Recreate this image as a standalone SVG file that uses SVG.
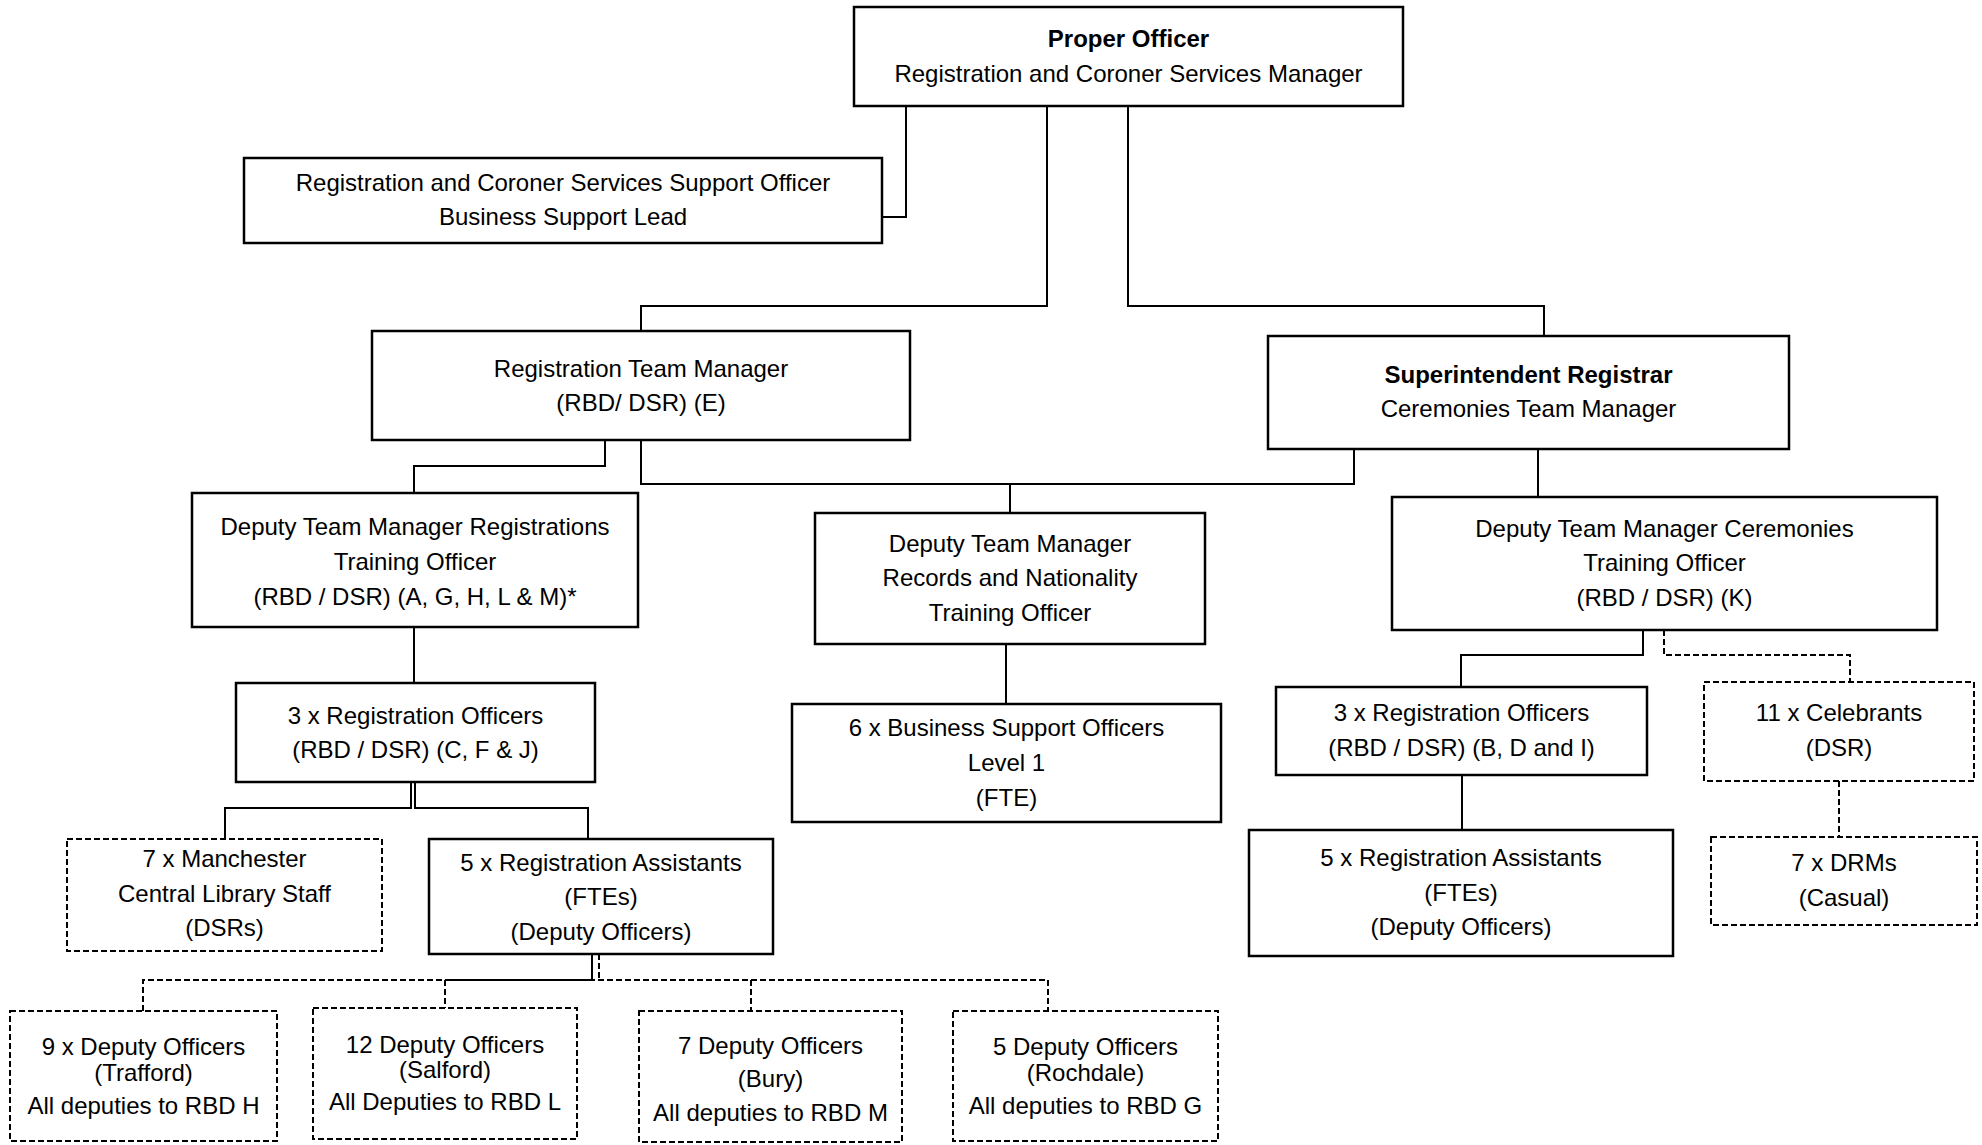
<svg xmlns="http://www.w3.org/2000/svg" width="1982" height="1145" viewBox="0 0 1982 1145">
<style>
.box{fill:#fff;stroke:#000;stroke-width:2.5}
.dbox{fill:#fff;stroke:#000;stroke-width:2;stroke-dasharray:6 3}
.ln{fill:none;stroke:#000;stroke-width:2}
.dl{fill:none;stroke:#000;stroke-width:2;stroke-dasharray:6 3}
text{font-family:"Liberation Sans",Arial,sans-serif;font-size:24px;fill:#000;text-anchor:middle}
.b{font-weight:bold}
</style>
<rect width="1982" height="1145" fill="#fff"/>
<g id="connectors">
<path class="ln" d="M906,106V217H882"/>
<path class="ln" d="M1047,106V306H641V331"/>
<path class="ln" d="M1128,106V306H1544V336"/>
<path class="ln" d="M605,440V466H414V493"/>
<path class="ln" d="M641,440V484H1354V449"/>
<path class="ln" d="M1010,484V513"/>
<path class="ln" d="M1538,449V497"/>
<path class="ln" d="M414,627V683"/>
<path class="ln" d="M1006,641V704"/>
<path class="ln" d="M411,782V808H225V839"/>
<path class="ln" d="M415,782V808H588V839"/>
<path class="ln" d="M1643,630V655H1461V687"/>
<path class="dl" d="M1664,630V655H1850V682"/>
<path class="ln" d="M1462,775V830"/>
<path class="dl" d="M1839,781V837"/>
<path class="ln" d="M592,954V980"/>
<path class="dl" d="M592,980H445" style="stroke-dasharray:8 1"/>
<path class="dl" d="M599,954V980"/>
<path class="dl" d="M143,1011V980H1048V1011"/>
<path class="dl" d="M445,980V1008"/>
<path class="dl" d="M751,980V1011"/>
</g>
<g id="proper-officer">
<rect class="box" x="854" y="7" width="549" height="99"/>
<text class="b" x="1128.5" y="47">Proper Officer</text>
<text x="1128.5" y="82">Registration and Coroner Services Manager</text>
</g>
<g id="support-officer">
<rect class="box" x="244" y="158" width="638" height="85"/>
<text x="563" y="191">Registration and Coroner Services Support Officer</text>
<text x="563" y="225">Business Support Lead</text>
</g>
<g id="registration-team-manager">
<rect class="box" x="372" y="331" width="538" height="109"/>
<text x="641" y="377">Registration Team Manager</text>
<text x="641" y="411">(RBD/ DSR) (E)</text>
</g>
<g id="superintendent-registrar">
<rect class="box" x="1268" y="336" width="521" height="113"/>
<text class="b" x="1528.5" y="383">Superintendent Registrar</text>
<text x="1528.5" y="417">Ceremonies Team Manager</text>
</g>
<g id="dtm-registrations">
<rect class="box" x="192" y="493" width="446" height="134"/>
<text x="415" y="535">Deputy Team Manager Registrations</text>
<text x="415" y="570">Training Officer</text>
<text x="415" y="605">(RBD / DSR) (A, G, H, L &amp; M)*</text>
</g>
<g id="dtm-records">
<rect class="box" x="815" y="513" width="390" height="131"/>
<text x="1010" y="552">Deputy Team Manager</text>
<text x="1010" y="586">Records and Nationality</text>
<text x="1010" y="621">Training Officer</text>
</g>
<g id="dtm-ceremonies">
<rect class="box" x="1392" y="497" width="545" height="133"/>
<text x="1664.5" y="537">Deputy Team Manager Ceremonies</text>
<text x="1664.5" y="571">Training Officer</text>
<text x="1664.5" y="606">(RBD / DSR) (K)</text>
</g>
<g id="reg-officers-left">
<rect class="box" x="236" y="683" width="359" height="99"/>
<text x="415.5" y="724">3 x Registration Officers</text>
<text x="415.5" y="758">(RBD / DSR) (C, F &amp; J)</text>
</g>
<g id="business-support">
<rect class="box" x="792" y="704" width="429" height="118"/>
<text x="1006.5" y="736">6 x Business Support Officers</text>
<text x="1006.5" y="771">Level 1</text>
<text x="1006.5" y="806">(FTE)</text>
</g>
<g id="reg-officers-right">
<rect class="box" x="1276" y="687" width="371" height="88"/>
<text x="1461.5" y="721">3 x Registration Officers</text>
<text x="1461.5" y="756">(RBD / DSR) (B, D and I)</text>
</g>
<g id="celebrants">
<rect class="dbox" x="1704" y="682" width="270" height="99"/>
<text x="1839" y="721">11 x Celebrants</text>
<text x="1839" y="756">(DSR)</text>
</g>
<g id="manchester-library">
<rect class="dbox" x="67" y="839" width="315" height="112"/>
<text x="224.5" y="867">7 x Manchester</text>
<text x="224.5" y="902">Central Library Staff</text>
<text x="224.5" y="936">(DSRs)</text>
</g>
<g id="reg-assistants-left">
<rect class="box" x="429" y="839" width="344" height="115"/>
<text x="601" y="871">5 x Registration Assistants</text>
<text x="601" y="905">(FTEs)</text>
<text x="601" y="940">(Deputy Officers)</text>
</g>
<g id="reg-assistants-right">
<rect class="box" x="1249" y="830" width="424" height="126"/>
<text x="1461" y="866">5 x Registration Assistants</text>
<text x="1461" y="901">(FTEs)</text>
<text x="1461" y="935">(Deputy Officers)</text>
</g>
<g id="drms">
<rect class="dbox" x="1711" y="837" width="266" height="88"/>
<text x="1844" y="871">7 x DRMs</text>
<text x="1844" y="906">(Casual)</text>
</g>
<g id="trafford">
<rect class="dbox" x="10" y="1011" width="267" height="130"/>
<text x="143.5" y="1055">9 x Deputy Officers</text>
<text x="143.5" y="1081">(Trafford)</text>
<text x="143.5" y="1114">All deputies to RBD H</text>
</g>
<g id="salford">
<rect class="dbox" x="313" y="1008" width="264" height="131"/>
<text x="445" y="1053">12 Deputy Officers</text>
<text x="445" y="1078">(Salford)</text>
<text x="445" y="1110">All Deputies to RBD L</text>
</g>
<g id="bury">
<rect class="dbox" x="639" y="1011" width="263" height="131"/>
<text x="770.5" y="1054">7 Deputy Officers</text>
<text x="770.5" y="1087">(Bury)</text>
<text x="770.5" y="1121">All deputies to RBD M</text>
</g>
<g id="rochdale">
<rect class="dbox" x="953" y="1011" width="265" height="130"/>
<text x="1085.5" y="1055">5 Deputy Officers</text>
<text x="1085.5" y="1081">(Rochdale)</text>
<text x="1085.5" y="1114">All deputies to RBD G</text>
</g>
</svg>
